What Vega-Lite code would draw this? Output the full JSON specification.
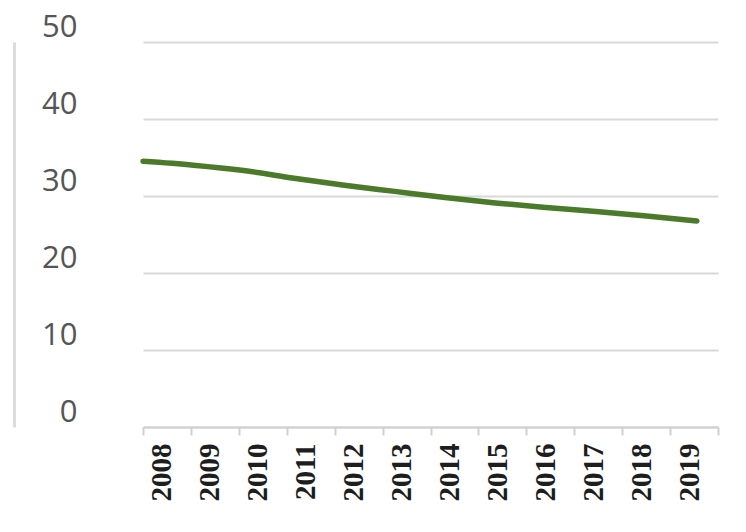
{
  "$schema": "https://vega.github.io/schema/vega-lite/v6.json",
  "autosize": "none",
  "width": 575,
  "height": 385,
  "padding": {"left": 143, "top": 42, "right": 28, "bottom": 105},
  "background": "white",
  "config": {"view": {"stroke": null}},
  "datasets": {
    "series": [
      {"year": 2008, "value": 34.5},
      {"year": 2009, "value": 34.0},
      {"year": 2010, "value": 33.3},
      {"year": 2011, "value": 32.3},
      {"year": 2012, "value": 31.4},
      {"year": 2013, "value": 30.6},
      {"year": 2014, "value": 29.8},
      {"year": 2015, "value": 29.1},
      {"year": 2016, "value": 28.5},
      {"year": 2017, "value": 28.0},
      {"year": 2018, "value": 27.4},
      {"year": 2019, "value": 26.75}
    ]
  },
  "data": {"name": "series"},
  "layer": [
    {
      "mark": {"type": "point", "opacity": 0},
      "encoding": {
        "x": {
          "field": "year",
          "type": "ordinal",
          "scale": {"paddingInner": 0, "paddingOuter": 0},
          "axis": {
            "title": null,
            "labelAngle": -90,
            "labelFont": "Liberation Serif",
            "labelFontWeight": "bold",
            "labelFontSize": 29,
            "labelColor": "#1e1e1e",
            "labelOffset": -5,
            "labelPadding": 8,
            "tickBand": "extent",
            "tickSize": 8,
            "tickColor": "#d0d0d0",
            "tickWidth": 2,
            "domainColor": "#d0d0d0",
            "domainWidth": 2,
            "grid": false
          }
        },
        "y": {
          "field": "value",
          "type": "quantitative",
          "scale": {"domain": [0, 50]},
          "axis": {
            "title": null,
            "values": [0, 10, 20, 30, 40, 50],
            "offset": 129,
            "domain": true,
            "domainColor": "#dcdcdc",
            "domainWidth": 3,
            "ticks": false,
            "tickSize": 0,
            "labelPadding": -63,
            "labelAlign": "right",
            "labelOffset": -15,
            "labelFont": "Open Sans",
            "labelFontSize": 31,
            "labelColor": "#555555",
            "grid": true,
            "gridColor": "#d9d9d9",
            "gridWidth": 2
          }
        }
      }
    },
    {
      "mark": {"type": "line", "interpolate": "monotone", "color": "#4b7a2b", "strokeWidth": 5.5, "strokeCap": "round"},
      "encoding": {
        "x": {
          "field": "year",
          "type": "quantitative",
          "scale": {"domain": [2008, 2019.42], "nice": false, "zero": false},
          "axis": null
        },
        "y": {"field": "value", "type": "quantitative", "scale": {"domain": [0, 50]}}
      }
    }
  ],
  "resolve": {"scale": {"x": "independent"}, "axis": {"x": "independent"}}
}
